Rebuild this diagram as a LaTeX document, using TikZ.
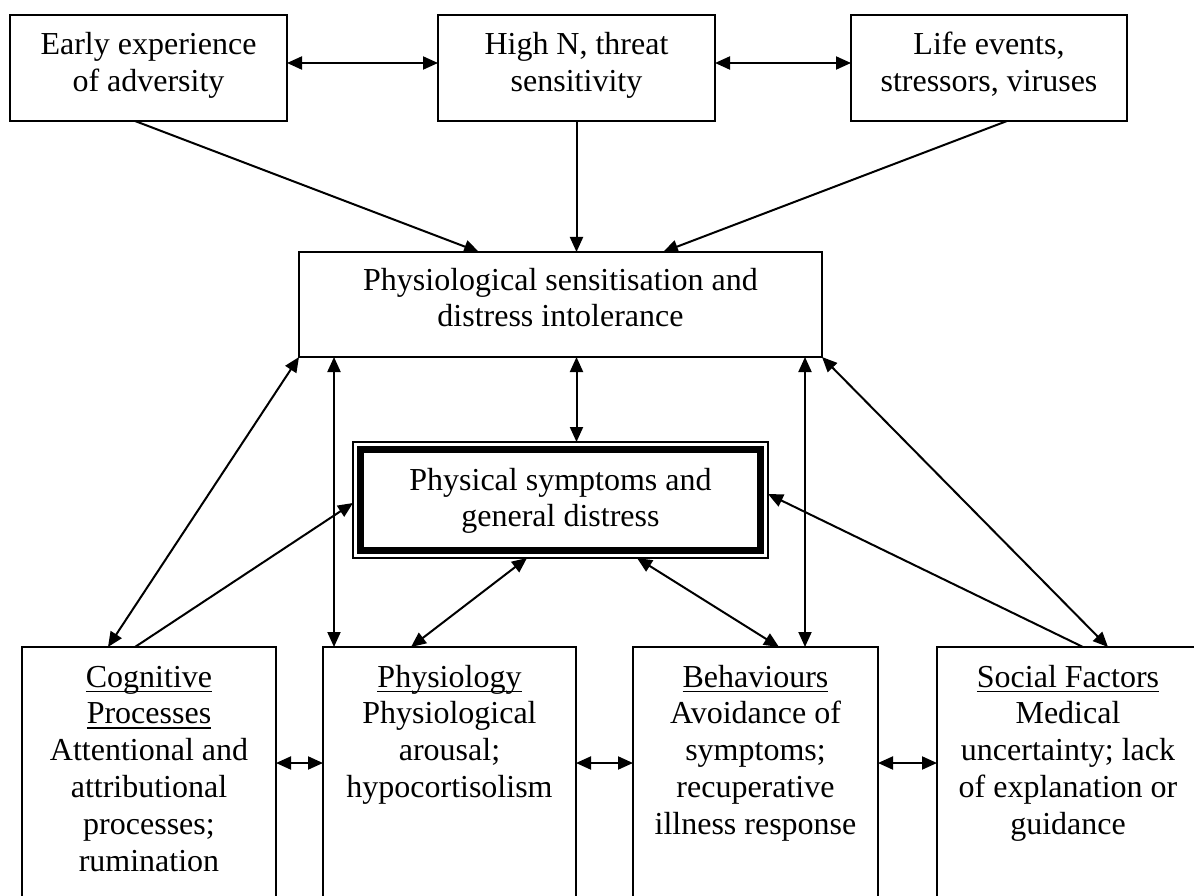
\documentclass[tikz,border=0pt]{standalone}
\usepackage{fontspec}
\setmainfont{Liberation Serif}
\usetikzlibrary{arrows.meta}
\newlength\ulwd
\newcommand\bt[4][40pt]{\parbox[c][#3][t]{#2}{\centering\rule{0pt}{#1}#4\par}}
\newcommand\myul[1]{\leavevmode\settowidth{\ulwd}{#1}\rlap{\rule[-5pt]{\ulwd}{1.5pt}}#1}
\begin{document}
\begin{tikzpicture}[x=1pt,y=-1pt,
  box/.style={draw, line width=1.5pt, inner sep=0pt, outer sep=0pt, font=\fontsize{32pt}{36.8pt}\selectfont},
  arr/.style={line width=2pt, -{Triangle[length=15pt,width=13pt]}},
  darr/.style={line width=2pt, {Triangle[length=15pt,width=13pt]}-{Triangle[length=15pt,width=13pt]}}]
\path[use as bounding box] (0,0) rectangle (1194,896);
\fill[white] (0,0) rectangle (1194,896);
\clip (0,0) rectangle (1194,896);
% top row
\node[box] (adv) at (148.5,68) {\bt{277pt}{106pt}{Early experience\\of adversity}};
\node[box] (hin) at (576.5,68) {\bt{277pt}{106pt}{High N, threat\\sensitivity}};
\node[box] (life) at (989,68) {\bt{276pt}{106pt}{Life events,\\stressors, viruses}};
% middle
\node[box] (sens) at (560.5,304.5) {\bt[38pt]{523pt}{105pt}{Physiological sensitisation and\\distress intolerance}};
\node[box, line width=1.2pt] (sym) at (560.5,500) {\bt[48pt]{415pt}{116pt}{Physical symptoms and\\general distress}};
\draw[line width=7pt] ([shift={(7.5,7.5)}]sym.north west) rectangle ([shift={(-7.5,-7.5)}]sym.south east);
% bottom row
\node[box] (cog) at (149,787) {\bt{254pt}{280pt}{\myul{Cognitive}\\\myul{Processes}\\Attentional and\\attributional\\processes;\\rumination}};
\node[box] (phy) at (449.5,787) {\bt{253pt}{280pt}{\myul{Physiology}\\Physiological\\arousal;\\hypocortisolism}};
\node[box] (beh) at (755.5,787) {\bt{245pt}{280pt}{\myul{Behaviours}\\Avoidance of\\symptoms;\\recuperative\\illness response}};
\node[box] (soc) at (1068,787) {\bt{262pt}{280pt}{\myul{Social Factors}\\Medical\\uncertainty; lack\\of explanation or\\guidance}};
% connectors
\draw[darr] ([yshift=5pt]adv.east) -- ([yshift=5pt]hin.west);
\draw[darr] ([yshift=5pt]hin.east) -- ([yshift=5pt]life.west);
\draw[arr] ([xshift=-13.5pt]adv.south) -- ([xshift=-81.5pt]sens.north);
\draw[arr] (hin.south) -- (hin.south |- sens.north);
\draw[arr] ([xshift=18pt]life.south) -- ([xshift=102.5pt]sens.north);
\draw[darr] ([xshift=16pt]sens.south) -- ([xshift=16pt]sym.north);
\draw[darr] (sens.south west) -- ([xshift=86pt]cog.north west);
\draw[arr] ([xshift=113pt]cog.north west) -- ([yshift=-3pt]sym.west);
\draw[darr] ([xshift=35pt]sens.south west) -- ([xshift=11pt]phy.north west);
\draw[darr] ([xshift=-33.5pt]sym.south) -- ([xshift=88pt]phy.north west);
\draw[darr] ([xshift=76.5pt]sym.south) -- ([xshift=146pt]beh.north west);
\draw[darr] ([xshift=-17pt]sens.south east) -- ([xshift=172pt]beh.north west);
\draw[darr] (sens.south east) -- ([xshift=171pt]soc.north west);
\draw[arr] ([xshift=146pt]soc.north west) -- ([yshift=6pt]sym.east);
\draw[darr] ([yshift=24pt]cog.east) -- ([yshift=24pt]phy.west);
\draw[darr] ([yshift=24pt]phy.east) -- ([yshift=24pt]beh.west);
\draw[darr] ([yshift=24pt]beh.east) -- ([yshift=24pt]soc.west);
\end{tikzpicture}
\end{document}
